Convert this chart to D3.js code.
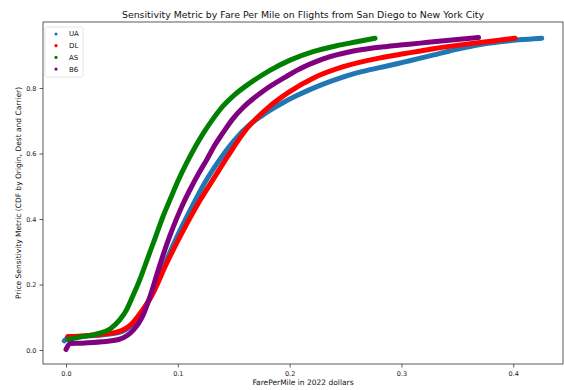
<!DOCTYPE html>
<html>
<head>
<meta charset="utf-8">
<script src="https://cdn.jsdelivr.net/npm/d3@7"></script>
<style>
  body { margin: 0; background: #fff; }
  svg { font-family: "DejaVu Sans", sans-serif; }
</style>
</head>
<body>
<svg id="chart" width="564" height="390"></svg>
<script>
// values: [fare per mile, cdf]
const carriers = ['UA', 'DL', 'AS', 'B6'];
const colors = ['#1f77b4', 'red', 'green', 'purple'];

const ua = [[-0.0015,0.028],[0.003,0.040],[0.014,0.042],[0.032,0.046],[0.047,0.053],[0.059,0.076],[0.068,0.112],[0.075,0.158],[0.087,0.252],[0.099,0.344],[0.112,0.433],[0.124,0.510],[0.135,0.569],[0.150,0.638],[0.165,0.690],[0.175,0.715],[0.183,0.733],[0.194,0.755],[0.206,0.776],[0.218,0.795],[0.230,0.812],[0.243,0.828],[0.257,0.843],[0.272,0.856],[0.287,0.867],[0.302,0.879],[0.317,0.891],[0.329,0.901],[0.343,0.913],[0.358,0.924],[0.373,0.934],[0.388,0.941],[0.405,0.947],[0.4255,0.952]];
const dl = [[0.0015,0.041],[0.014,0.043],[0.032,0.048],[0.047,0.056],[0.059,0.081],[0.068,0.120],[0.0765,0.165],[0.090,0.265],[0.105,0.366],[0.120,0.458],[0.1333,0.530],[0.144,0.588],[0.162,0.677],[0.180,0.738],[0.200,0.789],[0.221,0.830],[0.248,0.865],[0.281,0.892],[0.299,0.903],[0.317,0.913],[0.3285,0.920],[0.358,0.934],[0.380,0.943],[0.4016,0.952]];
const asData = [[0.002,0.032],[0.010,0.038],[0.026,0.048],[0.040,0.066],[0.048,0.092],[0.054,0.122],[0.0588,0.158],[0.066,0.215],[0.073,0.280],[0.080,0.345],[0.087,0.410],[0.094,0.467],[0.100,0.515],[0.108,0.572],[0.116,0.623],[0.123,0.663],[0.132,0.708],[0.1407,0.746],[0.151,0.780],[0.1616,0.808],[0.172,0.832],[0.182,0.853],[0.2004,0.885],[0.221,0.911],[0.242,0.929],[0.260,0.941],[0.2764,0.952]];
const b6 = [[0,0.002],[0.0036,0.020],[0.014,0.021],[0.032,0.025],[0.047,0.032],[0.055,0.045],[0.060,0.060],[0.065,0.082],[0.069,0.107],[0.073,0.142],[0.077,0.183],[0.081,0.228],[0.087,0.292],[0.093,0.350],[0.099,0.402],[0.105,0.449],[0.112,0.497],[0.119,0.541],[0.126,0.582],[0.133,0.625],[0.1407,0.665],[0.149,0.705],[0.1586,0.741],[0.1765,0.791],[0.197,0.835],[0.206,0.853],[0.230,0.889],[0.257,0.913],[0.287,0.927],[0.299,0.931],[0.317,0.937],[0.3285,0.941],[0.369,0.954]];
const series = [ua, dl, asData, b6];

const xTicks = [0, 0.1, 0.2, 0.3, 0.4];
const yTicks = [0, 0.2, 0.4, 0.6, 0.8];

const svg = d3.select('#chart');
const mLeft = 43, mRight = 563, mTop = 22, mBottom = 364;

const x = d3.scaleLinear().domain([-0.0206, 0.4445]).range([mLeft, mRight]);
const y = d3.scaleLinear().domain([-0.0427, 1.0015]).range([mBottom, mTop]);

const line = d3.line()
    .x(d => x(d[0]))
    .y(d => y(d[1]))
    .curve(d3.curveMonotoneX);

// curves
series.forEach(function (data, i) {
    svg.append('path')
        .datum(data)
        .attr('d', line)
        .attr('fill', 'none')
        .attr('stroke', colors[i])
        .attr('stroke-width', 5)
        .attr('stroke-linecap', 'round')
        .attr('stroke-linejoin', 'round');
});

// axes
const xAxis = svg.append('g')
    .attr('transform', `translate(0,${mBottom})`)
    .call(d3.axisBottom(x).tickValues(xTicks).tickFormat(d3.format('.1f')).tickSize(3.5).tickSizeOuter(0));
const yAxis = svg.append('g')
    .attr('transform', `translate(${mLeft},0)`)
    .call(d3.axisLeft(y).tickValues(yTicks).tickFormat(d3.format('.1f')).tickSize(3.5).tickSizeOuter(0));

[xAxis, yAxis].forEach(function (g) {
    g.select('.domain').remove();
    g.selectAll('.tick line').attr('stroke', '#333').attr('stroke-width', 0.8);
    g.selectAll('.tick text').attr('font-size', 6.5).attr('fill', '#222').attr('font-family', 'DejaVu Sans');
});
xAxis.selectAll('.tick text').attr('dy', '0.9em');

// frame
svg.append('rect')
    .attr('x', mLeft).attr('y', mTop)
    .attr('width', mRight - mLeft).attr('height', mBottom - mTop)
    .attr('fill', 'none')
    .attr('stroke', '#333')
    .attr('stroke-width', 0.8);

// title and labels
svg.append('text')
    .attr('x', (mLeft + mRight) / 2).attr('y', 17.5)
    .attr('text-anchor', 'middle')
    .attr('font-size', 9.4)
    .attr('fill', '#111')
    .text('Sensitivity Metric by Fare Per Mile on Flights from San Diego to New York City');

svg.append('text')
    .attr('x', (mLeft + mRight) / 2).attr('y', 385)
    .attr('text-anchor', 'middle')
    .attr('font-size', 7.5)
    .attr('fill', '#111')
    .text('FarePerMile in 2022 dollars');

svg.append('text')
    .attr('transform', `translate(21,${(mTop + mBottom) / 2}) rotate(-90)`)
    .attr('text-anchor', 'middle')
    .attr('font-size', 7.5)
    .attr('fill', '#111')
    .text('Price Sensitivity Metric (CDF by Origin, Dest and Carrier)');

// legend
const legend = svg.append('g').attr('transform', 'translate(45,27)');
legend.append('rect')
    .attr('width', 38).attr('height', 50)
    .attr('rx', 2)
    .attr('fill', 'white')
    .attr('fill-opacity', 0.8)
    .attr('stroke', '#ddd')
    .attr('stroke-width', 0.8);
carriers.forEach(function (c, i) {
    const row = legend.append('g').attr('transform', `translate(0,${7 + i * 11.7})`);
    row.append('circle').attr('cx', 11).attr('cy', 0).attr('r', 1.6).attr('fill', colors[i]);
    row.append('text')
        .attr('x', 24).attr('y', 0).attr('dy', '0.35em')
        .attr('font-size', 7)
        .attr('fill', '#111')
        .text(c);
});
</script>
</body>
</html>
